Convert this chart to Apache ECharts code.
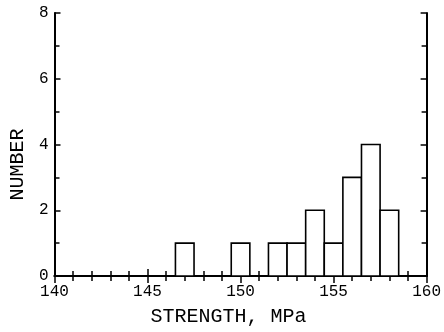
<!DOCTYPE html>
<html>
<head>
<meta charset="utf-8">
<script src="https://cdn.jsdelivr.net/npm/echarts@6/dist/echarts.min.js"></script>
<style>
  html, body { margin: 0; padding: 0; background: #fff; }
  #chart { width: 444px; height: 332px; }
</style>
</head>
<body>
<div id="chart"></div>
<script>
// histogram bins (centre of each 1 MPa bin) and counts
const binCenters = [147, 150, 152, 153, 154, 155, 156, 157, 158];
const counts = [1, 1, 1, 1, 2, 1, 3, 4, 2];
const binWidth = 1;
const xTicks = [140, 145, 150, 155, 160];
const yTicks = [0, 2, 4, 6, 8];

const FONT = 'Liberation Mono';
const chart = echarts.init(document.getElementById('chart'));

const axisLine = { show: true, lineStyle: { color: '#000', width: 2 } };

const option = {
  backgroundColor: '#fff',
  animation: false,
  grid: { left: 53, right: 14, top: 13, bottom: 56 },
  xAxis: [
    {
      type: 'value',
      min: xTicks[0],
      max: xTicks[xTicks.length - 1],
      interval: 5,
      name: 'STRENGTH, MPa',
      nameLocation: 'middle',
      nameGap: 41,
      nameTextStyle: {
        fontFamily: FONT, fontSize: 20, color: '#000',
        verticalAlign: 'middle', padding: [0, 24, 0, 0]
      },
      axisLine: axisLine,
      axisTick: { show: true, inside: true, length: 7, lineStyle: { color: '#000', width: 1.5 } },
      minorTick: { show: true, splitNumber: 5, length: 5, lineStyle: { color: '#000', width: 1.5 } },
      axisLabel: { fontFamily: FONT, fontSize: 16, color: '#000', margin: 8 },
      splitLine: { show: false }
    },
    {
      type: 'value',
      position: 'top',
      min: xTicks[0],
      max: xTicks[xTicks.length - 1],
      interval: 5,
      axisLine: axisLine,
      axisTick: { show: true, inside: true, length: 7, lineStyle: { color: '#000', width: 1.5 } },
      minorTick: { show: true, splitNumber: 5, length: 5, lineStyle: { color: '#000', width: 1.5 } },
      axisLabel: { show: false },
      splitLine: { show: false }
    }
  ],
  yAxis: [
    {
      type: 'value',
      min: yTicks[0],
      max: yTicks[yTicks.length - 1],
      interval: 2,
      name: 'NUMBER',
      nameLocation: 'middle',
      nameGap: 36,
      nameRotate: 90,
      nameTextStyle: {
        fontFamily: FONT, fontSize: 20, color: '#000',
        verticalAlign: 'middle', padding: [0, 40, 0, 0]
      },
      axisLine: axisLine,
      axisTick: { show: true, inside: true, length: 6, lineStyle: { color: '#000', width: 1.5 } },
      minorTick: { show: true, splitNumber: 2, length: 5, lineStyle: { color: '#000', width: 1.5 } },
      axisLabel: { fontFamily: FONT, fontSize: 16, color: '#000', margin: 6 },
      splitLine: { show: false }
    },
    {
      type: 'value',
      position: 'right',
      min: yTicks[0],
      max: yTicks[yTicks.length - 1],
      interval: 2,
      axisLine: axisLine,
      axisTick: { show: true, inside: true, length: 6, lineStyle: { color: '#000', width: 1.5 } },
      minorTick: { show: true, splitNumber: 2, length: 5, lineStyle: { color: '#000', width: 1.5 } },
      axisLabel: { show: false },
      splitLine: { show: false }
    }
  ],
  series: [
    {
      type: 'custom',
      xAxisIndex: 0,
      yAxisIndex: 0,
      data: binCenters.map((c, i) => [c, counts[i]]),
      renderItem: function (params, api) {
        const c = api.value(0);
        const v = api.value(1);
        const p0 = api.coord([c - binWidth / 2, 0]);
        const p1 = api.coord([c + binWidth / 2, v]);
        return {
          type: 'rect',
          shape: { x: p0[0], y: p1[1], width: p1[0] - p0[0], height: p0[1] - p1[1] },
          style: { fill: '#fff', stroke: '#000', lineWidth: 1.6 }
        };
      }
    }
  ]
};

chart.setOption(option);
</script>
</body>
</html>
